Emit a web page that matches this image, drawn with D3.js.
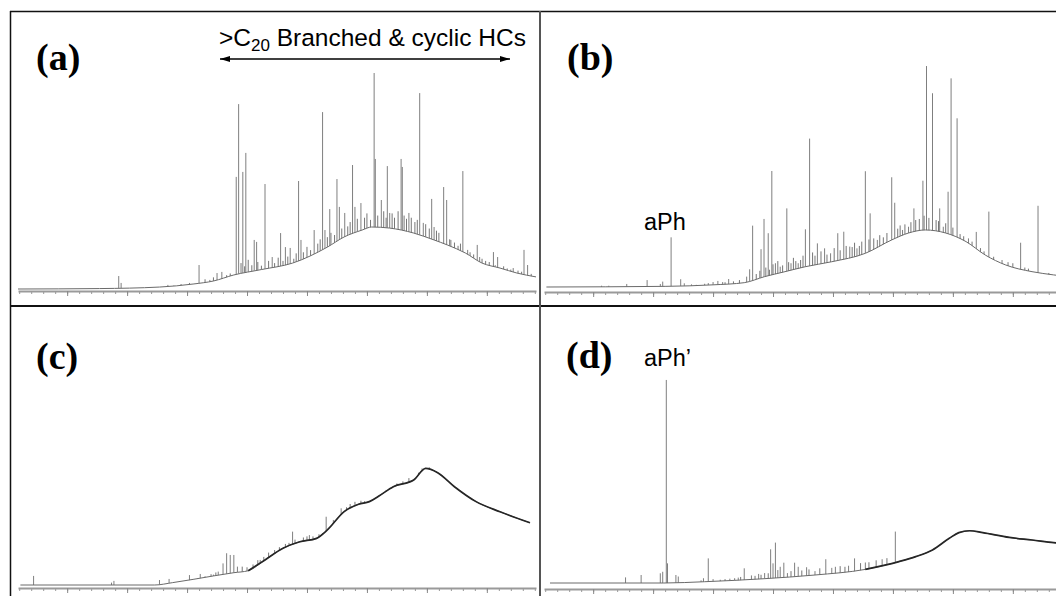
<!DOCTYPE html>
<html>
<head>
<meta charset="utf-8">
<script src="https://cdn.jsdelivr.net/npm/d3@7"></script>
<style>
  html, body { margin: 0; padding: 0; background: #fff; }
  svg { display: block; }
</style>
</head>
<body>
<svg id="chart" width="1056" height="596"></svg>
<script>
/* ---------- data (retention time in min, relative abundance) ---------- */
const X_DOMAIN   = [5.9, 49.1];
const minorTicks = d3.range(6, 50);
const majorTicks = [10, 15, 20, 25, 30, 35, 40, 45];
const panelLabels = ["(a)", "(b)", "(c)", "(d)"];

// unresolved hump (lower envelope of the trace)
const humpA = [[5.9,0],[12.7,0.2],[17.7,0.9],[20.5,2.3],[22.2,3.7],[23.9,6.5],[26.2,9.0],[28.8,12.0],
  [31.7,19.4],[33.1,24.1],[34.6,27.3],[35.4,28.7],[36.9,28.2],[38.9,25.9],[40.6,22.7],[41.7,20.4],
  [43.2,16.7],[44.6,12.0],[46.1,9.7],[47.5,7.4],[49.1,5.6]];
const humpB = [[6.1,0],[16.0,0.3],[20.0,1.0],[22.6,2.0],[24.3,4.8],[26.0,7.1],[27.7,9.4],[29.9,11.7],
  [32.7,15.6],[34.9,21.8],[36.3,25.0],[37.7,26.4],[39.4,25.0],[41.1,21.0],[42.7,14.8],[44.4,10.2],
  [46.6,7.1],[48.4,5.6],[49.1,5.1]];
const humpC = [[6.1,0],[17.3,0],[18.8,1.1],[20.5,2.6],[22.2,4.2],[23.9,5.7],[25.1,6.6],[26.5,11.6],
  [28.0,17.0],[29.4,20.0],[30.8,21.6],[31.7,25.5],[33.1,34.0],[34.3,37.4],[35.2,38.6],[36.0,41.2],
  [37.2,45.5],[38.9,48.6],[39.9,54.0],[40.9,52.0],[42.3,45.5],[44.1,38.6],[46.1,33.9],[48.6,28.8]];
const humpD = [[6.4,0],[15.9,0],[19.3,0.6],[24.3,2.0],[28.5,3.7],[32.7,6.3],[35.5,9.9],[36.9,12.2],
  [38.3,15.3],[39.7,20.7],[40.5,23.3],[41.4,24.2],[42.5,23.3],[44.7,21.1],[46.6,19.9],[48.4,18.7],[49.1,18.3]];

// resolved peaks [time, apex]
const peaksA = [[14.3,6.0],[14.5,2.8],[18.4,1.9],[21.0,11.1],[22.5,7.4],[22.9,7.9],
  [24.1,51.9],[24.3,85.6],[24.65,54.2],[24.9,63.0],[25.6,22.7],[25.8,21.8],[26.5,48.6],[27.1,14.8],
  [27.8,25.9],[28.2,19.4],[28.6,19.0],[29.3,50.0],[29.5,22.7],[30.6,27.3],[31.3,81.9],[31.5,27.3],
  [31.9,37.0],[32.5,50.9],[32.7,38.0],[33.15,35.2],[33.8,57.4],[34.0,38.0],[34.5,39.8],[35.6,100],
  [35.7,60.2],[36.2,41.2],[36.7,56.9],[36.9,35.2],[37.85,60.2],[37.95,56.5],[38.5,35.2],[39.4,90.7],
  [39.7,30.6],[40.4,41.7],[40.6,28.7],[41.4,47.2],[41.65,41.2],[42.0,22.7],[43.0,54.6],[43.4,18.1],
  [44.2,20.4],[44.4,14.8],[45.55,17.1],[45.9,14.8],[47.2,9.7],[48.1,18.1],[48.4,11.1]];
const peaksB = [[10.7,0.6],[11.3,0.6],[12.8,1.4],[14.5,3.2],[15.6,1.4],[15.8,2.5],[16.5,23.0],
  [17.3,3.6],[17.6,1.7],[20.0,2.3],[20.4,2.8],[20.8,2.3],[21.3,3.7],[22.8,4.8],[23.05,8.2],[23.3,28.4],
  [24.0,17.5],[24.25,31.5],[24.6,24.9],[24.9,53.7],[25.2,11.0],[25.6,9.4],[26.15,36.4],[26.5,11.0],
  [27.1,11.0],[27.7,26.7],[28.05,68.7],[28.7,20.2],[29.3,17.9],[29.8,15.6],[30.4,24.9],[30.9,25.6],
  [31.4,18.7],[32.0,17.9],[32.7,53.6],[33.1,34.1],[33.7,21.8],[34.9,50.8],[35.15,39.0],[35.8,26.4],
  [36.3,27.9],[36.75,36.4],[37.5,49.2],[37.8,102.3],[38.3,89.7],[38.9,36.4],[39.2,27.9],[39.6,44.1],
  [39.85,96.6],[40.35,78.1],[41.3,22.5],[41.95,25.5],[43.0,34.9],[44.1,12.5],[45.65,20.5],[47.1,37.6]];
const peaksC = [[7.2,4.2],[13.7,1.1],[13.9,1.9],[17.7,2.3],[18.5,2.8],[20.2,4.6],[21.1,5.1],[22.2,4.8],
  [22.6,6.2],[23.0,10.0],[23.3,14.7],[23.6,13.9],[23.9,13.9],[24.2,8.5],[26.1,11.6],[27.3,16.2],
  [28.8,24.7],[30.2,23.1],[31.6,31.6],[32.2,30.1],[32.85,35.5]];
const peaksD = [[12.7,2.6],[14.0,3.7],[15.6,4.5],[15.8,5.2],[16.1,94.0],[16.2,9.1],[16.9,3.7],[17.1,3.0],
  [19.2,2.2],[19.6,11.4],[20.0,1.8],[21.4,2.0],[22.1,2.5],[22.6,6.8],[23.2,3.5],[23.8,4.2],[24.3,4.6],
  [24.8,15.6],[25.0,9.1],[25.2,18.7],[25.4,6.0],[25.6,7.5],[25.9,9.4],[26.2,4.6],[26.8,9.4],[27.1,7.5],
  [27.8,7.3],[28.5,5.5],[29.4,11.0],[29.9,7.0],[30.2,7.5],[31.3,8.0],[31.8,11.4],[32.7,9.5],[34.1,11.0],[35.2,23.8]];

// small unresolved noise on the hump [time, apex]
const noiseA = [[18.9,1.6],[19.5,2.3],[20.2,2.8],[21.5,4.5],[21.9,4.2],[22.2,5.4],[23.3,6.4],[23.6,7.2],
  [24.5,12],[24.8,10.5],[25.1,13.5],[25.4,11],[25.9,12.5],[26.2,10.8],[26.8,13],[27.3,12],[27.6,14.5],
  [28.0,13],[28.4,15],[28.9,14],[29.1,16.5],[29.7,17],[30.0,19.5],[30.3,18],[30.9,21],[31.1,23],
  [31.7,24],[32.0,26],[32.3,25],[32.9,28],[33.4,29],[33.6,31],[34.2,32.5],[34.8,33],[35.0,35],[35.3,32],
  [35.9,34],[36.4,36],[36.6,33],[37.1,35],[37.3,33],[37.6,36],[38.1,34],[38.3,32.5],[38.7,33],[39.0,31],
  [39.2,32],[39.9,30],[40.2,28],[40.8,27],[41.0,26],[41.9,23],[42.3,21.5],[42.6,20],[42.8,21],[43.6,17],
  [43.9,16],[44.6,14],[44.9,13],[45.2,12.5],[45.7,11],[46.4,10.5],[46.7,9.5],[47.0,9],[47.6,8.5],
  [47.9,8],[48.7,7]];
const noiseB = [[18.2,1.2],[18.6,1.0],[19.3,1.5],[19.6,1.8],[21.0,2.2],[21.7,2.6],[22.2,3.2],
  [23.6,6],[23.9,7.5],[24.4,9],[24.7,8],[25.0,10.5],[25.4,12],[25.8,10],[26.3,11.5],[26.7,13.5],
  [26.9,12],[27.3,12.5],[27.5,14.5],[28.3,16],[28.5,14.5],[29.0,16.5],[29.5,15],[30.1,18],[30.6,17],
  [31.1,19],[31.6,18.5],[31.8,20.5],[32.2,19],[32.4,21],[33.0,22],[33.4,22.5],[33.9,24],[34.2,23],
  [34.5,25],[35.4,27],[35.6,28.5],[36.0,29],[36.5,30],[36.9,31],[37.2,31.5],[37.6,33],[38.0,32],
  [38.6,31],[38.8,30.5],[39.4,29.5],[40.0,27.5],[40.6,24.5],[40.9,23.5],[41.6,21],[42.3,18],[42.6,16.5],
  [43.4,14],[44.6,11.5],[45.0,11],[46.0,9],[46.3,8.5],[48.0,6.5]];
const noiseC = [[20.9,3.2],[21.5,4],[22.0,5],[22.4,5.8],[24.6,8.5],[25.0,8.2],[25.5,9.5],[25.9,11.5],
  [26.4,13],[26.8,15],[27.7,17.5],[28.2,19],[28.5,19.5],[29.0,21],[29.7,22],[30.0,22.5],[30.5,22.5],
  [31.0,23.5],[31.3,24],[32.5,29],[33.3,36],[33.6,37.5],[34.0,38.5],[34.5,39],[34.8,38.8],[35.5,39.5],
  [36.3,42.5],[36.6,44],[37.5,47],[38.0,48],[38.5,49.5],[39.3,52],[39.6,54],[40.2,54.5]];
const noiseD = [[19.0,1.2],[20.6,1.5],[21.0,1.8],[21.8,2.2],[22.3,2.8],[23.5,3.3],[24.0,3.8],[24.6,4.5],
  [26.5,5.5],[27.4,5.8],[28.0,6.3],[28.9,6.8],[30.6,7.8],[31.0,7.5],[32.3,9.2],[33.0,9.6],[33.6,10.5],[34.5,11.5]];

/* ---------- layout ---------- */
const W = 1056, H = 596;
const svg = d3.select("#chart");
svg.append("rect").attr("width", W).attr("height", H).attr("fill", "#fff");

// darkFrom: time from which the trace is drawn as a heavy dark line
const panels = [
  {x0: 18,  base: 289, axisY: 291, hump: humpA, peaks: peaksA, noise: noiseA, darkFrom: null},
  {x0: 544, base: 287, axisY: 292, hump: humpB, peaks: peaksB, noise: noiseB, darkFrom: null},
  {x0: 18,  base: 585, axisY: 588, hump: humpC, peaks: peaksC, noise: noiseC, darkFrom: 25.1},
  {x0: 544, base: 583, axisY: 589, hump: humpD, peaks: peaksD, noise: noiseD, darkFrom: 32.7}
];

panels.forEach(p => {
  const x = d3.scaleLinear().domain(X_DOMAIN).range([p.x0, p.x0 + 518]);
  const y = d3.scaleLinear().domain([0, 100]).range([p.base, p.base - 216]);
  const g = svg.append("g");

  // axis
  const ax = g.append("g").attr("transform", `translate(0,${p.axisY})`)
    .call(d3.axisBottom(x).tickValues(minorTicks).tickSize(3).tickSizeOuter(0).tickFormat(""));
  ax.select(".domain").attr("stroke", "#9a9a9a").attr("stroke-width", 2);
  ax.selectAll(".tick line").attr("stroke", "#999");
  const axM = g.append("g").attr("transform", `translate(0,${p.axisY})`)
    .call(d3.axisBottom(x).tickValues(majorTicks).tickSize(5).tickSizeOuter(0).tickFormat(""));
  axM.select(".domain").remove();
  axM.selectAll(".tick line").attr("stroke", "#888");

  // noise + peaks as thin spikes
  g.selectAll("line.noise").data(p.noise).join("line").attr("class", "noise")
    .attr("x1", d => x(d[0])).attr("x2", d => x(d[0]))
    .attr("y1", y(0)).attr("y2", d => y(d[1]))
    .attr("stroke", "#666").attr("stroke-width", 0.9);
  g.selectAll("line.pk").data(p.peaks).join("line").attr("class", "pk")
    .attr("x1", d => x(d[0])).attr("x2", d => x(d[0]))
    .attr("y1", y(0)).attr("y2", d => y(d[1]))
    .attr("stroke", "#707070").attr("stroke-width", 0.9);

  // hump: white mask under it, then the trace
  const area = d3.area().x(d => x(d[0])).y0(y(0) + 0.5).y1(d => y(d[1])).curve(d3.curveMonotoneX);
  g.append("path").datum(p.hump).attr("d", area).attr("fill", "#fff");
  const line = d3.line().x(d => x(d[0])).y(d => y(d[1])).curve(d3.curveMonotoneX);
  g.append("path").datum(p.hump).attr("d", line)
    .attr("fill", "none").attr("stroke", "#6a6a6a").attr("stroke-width", 1);
  if (p.darkFrom !== null) {
    g.append("path").datum(p.hump)
      .attr("d", line.defined(d => d[0] >= p.darkFrom))
      .attr("fill", "none").attr("stroke", "#262626").attr("stroke-width", 1.7);
  }
});

/* ---------- frame ---------- */
const frame = svg.append("g").attr("fill", "none");
frame.append("line").attr("x1", 10).attr("x2", W).attr("y1", 11.5).attr("y2", 11.5)
  .attr("stroke", "#111").attr("stroke-width", 1.5);
frame.append("line").attr("x1", 10.5).attr("x2", 10.5).attr("y1", 11).attr("y2", H)
  .attr("stroke", "#111").attr("stroke-width", 1.5);
frame.append("line").attr("x1", 10).attr("x2", W).attr("y1", 306).attr("y2", 306)
  .attr("stroke", "#111").attr("stroke-width", 2);
frame.append("line").attr("x1", 540).attr("x2", 540).attr("y1", 11).attr("y2", H)
  .attr("stroke", "#555").attr("stroke-width", 2);

/* ---------- labels ---------- */
const labelPos = [[36, 70], [567, 70], [36, 369], [566, 368]];
svg.selectAll("text.plab").data(panelLabels).join("text").attr("class", "plab")
  .attr("x", (d, i) => labelPos[i][0]).attr("y", (d, i) => labelPos[i][1])
  .attr("font-family", "'Liberation Serif', 'Times New Roman', serif")
  .attr("font-weight", "bold").attr("font-size", 38).attr("fill", "#000")
  .text(d => d);

const sans = "'Liberation Sans', Arial, sans-serif";
const t = svg.append("text").attr("x", 219).attr("y", 46)
  .attr("font-family", sans).attr("font-size", 24.5).attr("fill", "#000");
t.append("tspan").text(">C");
t.append("tspan").attr("font-size", 17).attr("dy", 5).text("20");
t.append("tspan").attr("dy", -5).text(" Branched & cyclic HCs");

svg.append("defs").append("marker").attr("id", "ah")
  .attr("viewBox", "0 0 10 6").attr("refX", 10).attr("refY", 3)
  .attr("markerWidth", 10).attr("markerHeight", 6).attr("markerUnits", "userSpaceOnUse")
  .attr("orient", "auto-start-reverse")
  .append("path").attr("d", "M0,0 L10,3 L0,6 z").attr("fill", "#000");
svg.append("line").attr("x1", 220).attr("x2", 510).attr("y1", 59).attr("y2", 59)
  .attr("stroke", "#000").attr("stroke-width", 1.5)
  .attr("marker-start", "url(#ah)").attr("marker-end", "url(#ah)");

svg.append("text").attr("x", 644).attr("y", 230)
  .attr("font-family", sans).attr("font-size", 23.5).attr("fill", "#000").text("aPh");
svg.append("text").attr("x", 644).attr("y", 366)
  .attr("font-family", sans).attr("font-size", 23.5).attr("fill", "#000").text("aPh\u2019");
</script>
</body>
</html>
